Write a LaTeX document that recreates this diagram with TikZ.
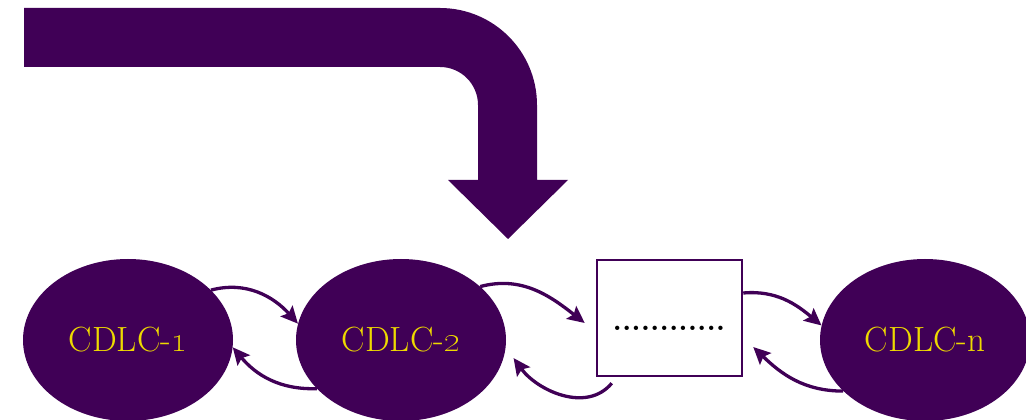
\documentclass[tikz,border=0pt]{standalone}
\usetikzlibrary{arrows.meta,shapes.geometric}
\definecolor{cdpurple}{RGB}{64,0,86}
\definecolor{cdyellow}{RGB}{238,218,0}
\tikzset{
  cdlc/.style={ellipse, fill=cdpurple, draw=none, minimum width=210pt, minimum height=162pt, inner sep=0pt,
    text=cdyellow, font=\fontsize{35}{40}\selectfont},
  gapbox/.style={rectangle, draw=cdpurple, line width=2.5pt, fill=white, minimum width=145pt, minimum height=116pt, inner sep=0pt},
  link/.style={draw=cdpurple, line width=3.3pt, -{Stealth[length=17pt,width=16pt,inset=3pt]}},
  bigarrow/.style={fill=cdpurple, draw=none}
}
\begin{document}
\begin{tikzpicture}[x=1pt,y=1pt]
\useasboundingbox (0,0) rectangle (1026,420);
% big bent arrow
\path[bigarrow] (24,412) -- (440,412) arc[start angle=90,end angle=0,radius=97] -- (537,240) -- (568,240) -- (508,181) -- (448,240) -- (478,240) -- (478,315) arc[start angle=0,end angle=90,radius=38] -- (24,353) -- cycle;
% nodes
\node[cdlc] (e1) at (128,80) {CDLC-\oldstylenums{1}};
\node[cdlc] (e2) at (401,80) {CDLC-\oldstylenums{2}};
\node[cdlc] (en) at (925,80) {CDLC-n};
\node[gapbox] (box) at (669.5,102) {};
\node[font=\bfseries\fontsize{30}{36}\selectfont, inner sep=0pt] (dots) at (669,92) {............};
% connectors
\draw[link] (e1.31) to[out=15,in=132] (e2.171);
\draw[link] (e2.210) to[out=182,in=-50] (e1.-4);
\draw[link] (e2.34) to[out=15,in=142] ([xshift=-11pt,yshift=-5pt]box.west);
\draw[link] ([xshift=16pt,yshift=-6pt]box.south west) to[out=230,in=-54] ([xshift=10pt]e2.-10);
\draw[link] ([yshift=25pt]box.east) to[out=5,in=140] (en.172);
\draw[link] (en.212) to[out=180,in=-44] ([xshift=10pt,yshift=-29pt]box.east);
\end{tikzpicture}
\end{document}
